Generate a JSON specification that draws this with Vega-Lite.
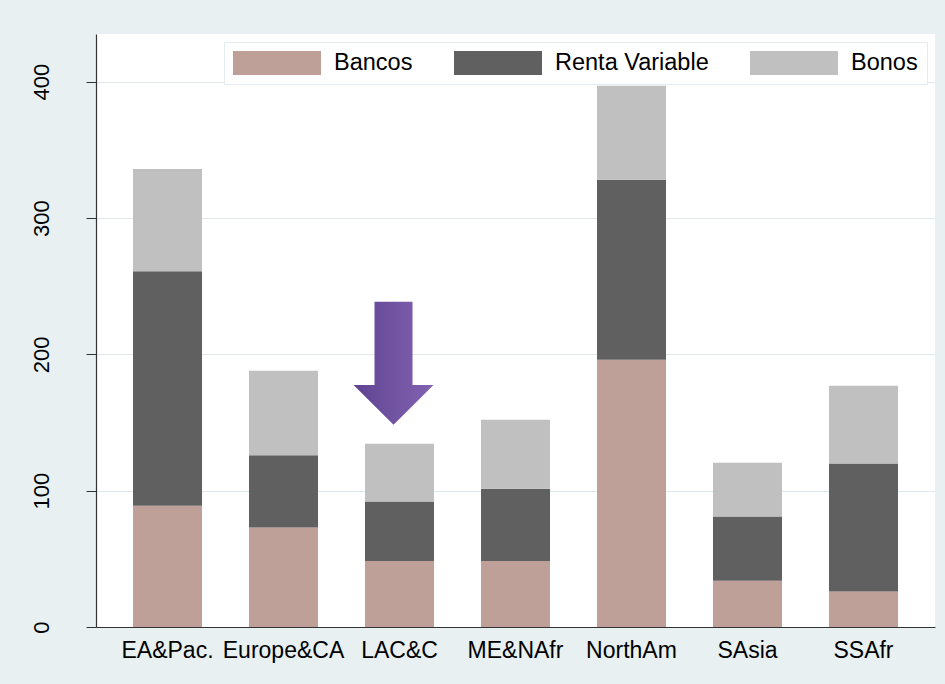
{
  "$schema": "https://vega.github.io/schema/vega-lite/v6.json",
  "autosize": {"type": "none"},
  "width": 839,
  "height": 593,
  "padding": {"left": 96, "top": 34, "right": 10, "bottom": 57},
  "background": "#e8f0f2",
  "title": {
    "text": "(a)",
    "frame": "group",
    "anchor": "start",
    "dx": 294,
    "offset": 35,
    "baseline": "alphabetic",
    "fontSize": 27,
    "fontWeight": "normal",
    "font": "Liberation Sans",
    "color": "#000000"
  },
  "config": {
    "font": "Liberation Sans",
    "view": {"fill": "#ffffff", "stroke": null}
  },
  "datasets": {
    "flows": [
      {"region": "EA&Pac.", "tipo": "Bancos", "valor": 89},
      {"region": "EA&Pac.", "tipo": "Renta Variable", "valor": 172},
      {"region": "EA&Pac.", "tipo": "Bonos", "valor": 75},
      {"region": "Europe&CA", "tipo": "Bancos", "valor": 73},
      {"region": "Europe&CA", "tipo": "Renta Variable", "valor": 53},
      {"region": "Europe&CA", "tipo": "Bonos", "valor": 62},
      {"region": "LAC&C", "tipo": "Bancos", "valor": 48.5},
      {"region": "LAC&C", "tipo": "Renta Variable", "valor": 43.5},
      {"region": "LAC&C", "tipo": "Bonos", "valor": 42.5},
      {"region": "ME&NAfr", "tipo": "Bancos", "valor": 48.5},
      {"region": "ME&NAfr", "tipo": "Renta Variable", "valor": 53},
      {"region": "ME&NAfr", "tipo": "Bonos", "valor": 50.5},
      {"region": "NorthAm", "tipo": "Bancos", "valor": 196},
      {"region": "NorthAm", "tipo": "Renta Variable", "valor": 132},
      {"region": "NorthAm", "tipo": "Bonos", "valor": 69},
      {"region": "SAsia", "tipo": "Bancos", "valor": 34},
      {"region": "SAsia", "tipo": "Renta Variable", "valor": 47},
      {"region": "SAsia", "tipo": "Bonos", "valor": 39.5},
      {"region": "SSAfr", "tipo": "Bancos", "valor": 26},
      {"region": "SSAfr", "tipo": "Renta Variable", "valor": 94},
      {"region": "SSAfr", "tipo": "Bonos", "valor": 57}
    ],
    "arrow": [
      {"region": "LAC&C", "valor": 193.4}
    ]
  },
  "encoding": {
    "x": {
      "field": "region",
      "type": "nominal",
      "sort": ["EA&Pac.", "Europe&CA", "LAC&C", "ME&NAfr", "NorthAm", "SAsia", "SSAfr"],
      "scale": {"paddingInner": 0.405, "paddingOuter": 0.319},
      "axis": {
        "title": null,
        "labelAngle": 0,
        "labelFontSize": 23,
        "labelColor": "#000000",
        "labelPadding": 12,
        "ticks": false,
        "domainColor": "#333333",
        "domainWidth": 1.2,
        "grid": false
      }
    },
    "y": {
      "field": "valor",
      "type": "quantitative",
      "scale": {"domain": [0, 435], "nice": false},
      "axis": {
        "title": null,
        "values": [0, 100, 200, 300, 400],
        "labelAngle": -90,
        "labelAlign": "center",
        "labelBaseline": "alphabetic",
        "labelPadding": 38,
        "labelFontSize": 22,
        "labelColor": "#000000",
        "tickSize": 10,
        "tickColor": "#333333",
        "domainColor": "#333333",
        "domainWidth": 1.2,
        "grid": true,
        "gridColor": "#dfe8ea",
        "gridWidth": 1.2
      }
    }
  },
  "layer": [
    {
      "data": {"name": "flows"},
      "transform": [
        {"calculate": "indexof(['Bancos', 'Renta Variable', 'Bonos'], datum.tipo)", "as": "orden"}
      ],
      "mark": {"type": "bar"},
      "encoding": {
        "order": {"field": "orden", "type": "quantitative", "sort": "ascending"},
        "color": {
          "field": "tipo",
          "type": "nominal",
          "sort": ["Bancos", "Renta Variable", "Bonos"],
          "scale": {
            "domain": ["Bancos", "Renta Variable", "Bonos"],
            "range": ["#bfa099", "#606060", "#c0c0c0"]
          },
          "legend": {
            "title": null,
            "orient": "top-right",
            "offset": 8,
            "direction": "horizontal",
            "columns": 3,
            "padding": 9,
            "fillColor": "#ffffff",
            "strokeColor": "#e3ecee",
            "symbolType": "M-3.667,-1H3.667V1H-3.667Z",
            "symbolSize": 576,
            "symbolOffset": 32,
            "symbolStrokeWidth": 0,
            "symbolOpacity": 1,
            "labelFontSize": 23.5,
            "labelColor": "#000000",
            "labelOffset": 45,
            "columnPadding": 40,
            "labelLimit": 300
          }
        }
      }
    },
    {
      "data": {"name": "arrow"},
      "mark": {
        "type": "point",
        "filled": true,
        "opacity": 1,
        "xOffset": -6,
        "shape": "M-0.309,-1L0.309,-1L0.309,0.35L0.65,0.35L0,1L-0.65,0.35L-0.309,0.35Z",
        "size": 15129,
        "color": {
          "gradient": "linear",
          "x1": 0, "y1": 0, "x2": 1, "y2": 0,
          "stops": [
            {"offset": 0, "color": "#5f4391"},
            {"offset": 1, "color": "#8263b2"}
          ]
        }
      }
    }
  ]
}
